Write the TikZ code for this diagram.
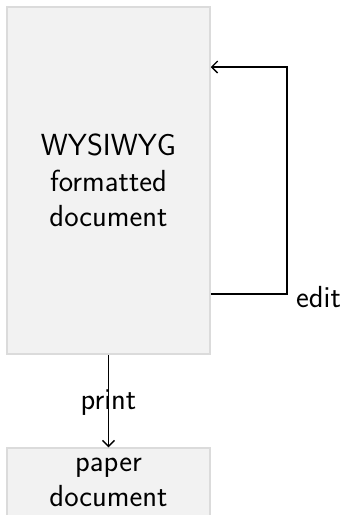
\documentclass[tikz,border=0pt]{standalone}
\usetikzlibrary{arrows.meta}
\begin{document}
\begin{tikzpicture}[x=1pt,y=-1pt,
  box/.style={draw=black!14,fill=black!5,line width=1.5pt,align=center,inner sep=0pt,
    font=\sffamily\fontsize{30.5}{35.5}\selectfont},
  lbl/.style={font=\sffamily\fontsize{30.5}{35.5}\selectfont,inner sep=0pt},
  conn/.style={line width=1.4pt,-{Straight Barb[length=6pt,width=12pt]}}]
\useasboundingbox (0,0) rectangle (345,515);
\clip (0,0) rectangle (345,515);
\node[box,minimum width=203pt,minimum height=347pt] (doc) at (108.5,180.5) {WYSIWYG\\formatted\\document};
\node[box,minimum width=203pt,minimum height=69pt] (paper) at (108.5,482.5) {paper\\document};
\coordinate (c1) at (287,294);
\coordinate (c2) at (287,67);
\draw[conn] ([yshift=-113.5pt]doc.east) -- (c1) -- (c2) -- ([yshift=113.5pt]doc.east);
\node[lbl,anchor=base west] (edit) at (296,307) {edit};
\draw[conn] (doc.south) -- (paper.north);
\node[lbl,anchor=base] (print) at (108.5,409) {print};
\end{tikzpicture}
\end{document}
